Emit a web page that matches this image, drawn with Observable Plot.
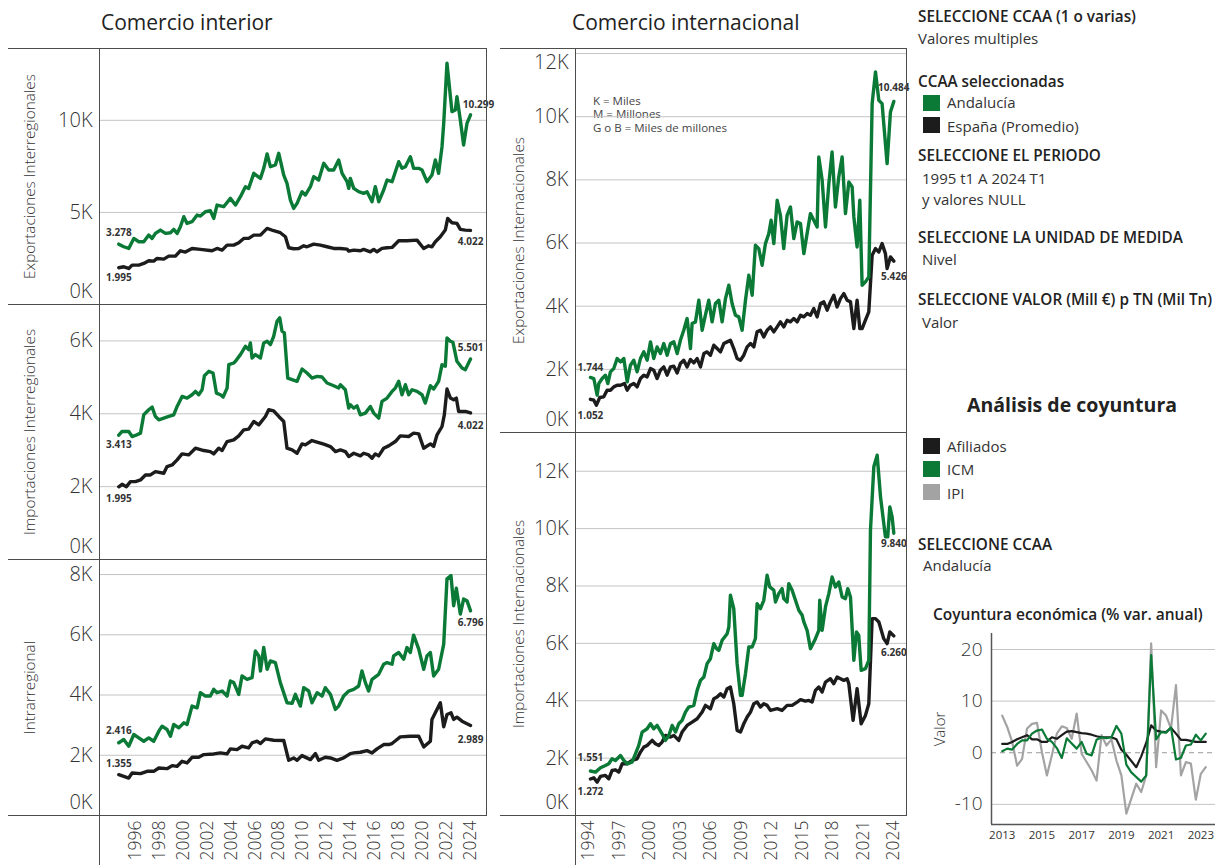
<!DOCTYPE html>
<html><head><meta charset="utf-8">
<script src="https://cdn.jsdelivr.net/npm/d3@7"></script>
<script src="https://cdn.jsdelivr.net/npm/@observablehq/plot@0.6"></script>
<style>
body{margin:0;background:#fff;font-family:"Open Sans","DejaVu Sans",sans-serif;color:#333;}
#page{position:relative;width:1217px;height:865px;overflow:hidden;background:#fff;}
.abs{position:absolute;}
.hl{position:absolute;height:0;border-top:1.5px solid #4d4d4d;z-index:3;}
.vl{position:absolute;width:0;border-left:1.5px solid #4d4d4d;z-index:3;}
.tx{position:absolute;white-space:nowrap;line-height:1;transform:translateY(-50%);}
.h1{font-size:21px;font-weight:500;color:#222;}
.b{font-size:15.3px;font-weight:600;color:#222;}
.r{font-size:15px;font-weight:400;color:#333;}
.sq{position:absolute;width:17px;height:16px;}
.note{font-size:11.5px;color:#444;}
</style>
</head><body>
<div id="page">
  <div class="tx h1" style="left:101px;top:22px">Comercio interior</div>
  <div class="tx h1" style="left:572px;top:22px">Comercio internacional</div>

  <div class="tx b" style="left:918px;top:17px">SELECCIONE CCAA (1 o varias)</div>
  <div class="tx r" style="left:918px;top:38px">Valores multiples</div>
  <div class="tx b" style="left:918px;top:82px">CCAA seleccionadas</div>
  <div class="sq" style="left:923px;top:95px;background:#0a7a36"></div>
  <div class="tx r" style="left:947px;top:102px">Andalucía</div>
  <div class="sq" style="left:923px;top:117px;background:#1c1c1c"></div>
  <div class="tx r" style="left:947px;top:126px">España (Promedio)</div>
  <div class="tx b" style="left:918px;top:156px">SELECCIONE EL PERIODO</div>
  <div class="tx r" style="left:922px;top:178px">1995 t1 A 2024 T1</div>
  <div class="tx r" style="left:922px;top:199px">y valores NULL</div>
  <div class="tx b" style="left:918px;top:238px">SELECCIONE LA UNIDAD DE MEDIDA</div>
  <div class="tx r" style="left:922px;top:259px">Nivel</div>
  <div class="tx b" style="left:918px;top:300px">SELECCIONE VALOR (Mill €) p TN (Mil Tn)</div>
  <div class="tx r" style="left:922px;top:322px">Valor</div>

  <div class="tx" style="left:967px;top:405px;font-size:19.5px;font-weight:700;color:#222">Análisis de coyuntura</div>
  <div class="sq" style="left:923px;top:438px;background:#1c1c1c"></div>
  <div class="tx r" style="left:947px;top:446px">Afiliados</div>
  <div class="sq" style="left:923px;top:461px;background:#0a7a36"></div>
  <div class="tx r" style="left:947px;top:469px">ICM</div>
  <div class="sq" style="left:923px;top:484px;background:#a3a3a3"></div>
  <div class="tx r" style="left:947px;top:493px">IPI</div>
  <div class="tx b" style="left:918px;top:545px">SELECCIONE CCAA</div>
  <div class="tx r" style="left:923px;top:565px">Andalucía</div>
  <div class="tx" style="left:933px;top:615px;font-size:15.5px;font-weight:600;color:#222">Coyuntura económica (% var. anual)</div>

  <div class="tx note" style="left:593px;top:101px">K = Miles</div>
  <div class="tx note" style="left:593px;top:114px">M = Millones</div>
  <div class="tx note" style="left:593px;top:128px">G o B = Miles de millones</div>

  <div id="p1" class="abs" style="left:8px;top:48px"></div>
  <div id="p2" class="abs" style="left:8px;top:304px"></div>
  <div id="p3" class="abs" style="left:8px;top:559px"></div>
  <div id="p4" class="abs" style="left:500px;top:48px"></div>
  <div id="p5" class="abs" style="left:500px;top:432px"></div>
  <div id="p6" class="abs" style="left:905px;top:625px"></div>

  <div class="hl" style="left:8px;width:479px;top:48px"></div>
  <div class="hl" style="left:8px;width:479px;top:304px"></div>
  <div class="hl" style="left:8px;width:479px;top:559px"></div>
  <div class="hl" style="left:8px;width:479px;top:815px"></div>
  <div class="vl" style="left:99px;top:48px;height:817px"></div>
  <div class="vl" style="left:486px;top:48px;height:768px"></div>

  <div class="hl" style="left:500px;width:407px;top:48px"></div>
  <div class="hl" style="left:500px;width:407px;top:432px"></div>
  <div class="hl" style="left:500px;width:407px;top:815px"></div>
  <div class="vl" style="left:575px;top:48px;height:817px"></div>
  <div class="vl" style="left:906px;top:48px;height:768px"></div>
</div>
<script>
// ---------- DATA ----------
const SERIES = ["Andalucía", "España (Promedio)"];

// Comercio interior — Exportaciones Interregionales (millones €), [año, valor]
const expInterAnd = [[1995.00,3278],[1995.41,3135],[1995.82,3044],[1996.24,3588],[1996.65,3407],[1997.06,3407],[1997.47,3769],[1997.75,3588],[1998.02,3860],[1998.43,4041],[1998.85,3860],[1999.26,3896],[1999.53,4077],[1999.81,3860],[2000.08,4222],[2000.36,4766],[2000.63,4403],[2001.04,4494],[2001.46,4856],[2001.73,4802],[2002.14,5037],[2002.55,5092],[2002.83,4675],[2003.10,5400],[2003.65,5309],[2004.20,5762],[2004.62,5400],[2005.03,5853],[2005.44,6396],[2005.71,6306],[2006.13,7121],[2006.68,6849],[2006.95,7393],[2007.23,8172],[2007.50,7484],[2007.91,7574],[2008.19,8208],[2008.60,7031],[2008.87,6577],[2009.15,5672],[2009.42,5219],[2009.70,5490],[2010.11,6125],[2010.38,5943],[2010.80,6396],[2011.07,6940],[2011.48,6759],[2011.90,7665],[2012.31,7302],[2012.72,7302],[2013.13,7846],[2013.41,7121],[2013.82,6668],[2013.96,6306],[2014.09,6849],[2014.37,6306],[2014.78,6125],[2015.19,6034],[2015.47,6125],[2015.88,5581],[2016.15,6396],[2016.43,5581],[2016.84,6215],[2017.12,6759],[2017.53,6668],[2018.08,7755],[2018.35,7393],[2018.63,7484],[2019.04,8027],[2019.31,7393],[2019.73,7393],[2020.00,7302],[2020.41,6668],[2020.82,7031],[2021.10,7846],[2021.37,7121],[2021.65,8571],[2021.79,9839],[2022.06,13101],[2022.47,10474],[2022.75,10564],[2022.88,11289],[2023.16,10020],[2023.43,8661],[2023.71,9839],[2024.00,10299]];
const expInterEsp = [[1995.00,1995],[1995.41,2048],[1995.82,1957],[1996.10,2138],[1996.65,2138],[1997.06,2229],[1997.47,2374],[1997.88,2356],[1998.16,2501],[1998.71,2464],[1999.12,2627],[1999.67,2627],[2000.08,2917],[2000.49,2845],[2001.04,3044],[2001.73,2990],[2002.69,2917],[2003.10,3044],[2003.52,2954],[2003.93,3225],[2004.48,3225],[2004.89,3352],[2005.30,3588],[2005.71,3588],[2006.13,3769],[2006.68,3769],[2007.23,4131],[2007.77,4005],[2008.32,3896],[2008.74,3678],[2009.01,3080],[2009.42,3026],[2009.84,3044],[2010.25,3189],[2010.52,3135],[2011.07,3280],[2011.62,3225],[2012.17,3135],[2012.72,3044],[2013.27,3044],[2013.82,3008],[2013.96,2899],[2014.37,2954],[2014.92,2917],[2015.19,2990],[2015.74,2863],[2016.02,2990],[2016.29,2863],[2016.70,3044],[2017.12,3080],[2017.53,3099],[2018.08,3461],[2018.76,3461],[2019.59,3497],[2020.14,3044],[2020.55,3189],[2020.82,3135],[2021.10,3407],[2021.51,3678],[2021.92,4041],[2022.12,4675],[2022.47,4439],[2022.88,4403],[2023.16,4077],[2023.57,4041],[2024.00,4022]];

// Importaciones Interregionales
const impInterAnd = [[1995.00,3413],[1995.27,3514],[1995.55,3514],[1995.82,3514],[1996.10,3376],[1996.37,3404],[1996.79,3468],[1997.06,3972],[1997.47,4110],[1997.75,4183],[1998.02,3926],[1998.30,3835],[1998.71,3881],[1999.12,3926],[1999.53,3972],[1999.81,4202],[2000.22,4477],[2000.63,4431],[2001.04,4523],[2001.32,4614],[2001.59,4523],[2001.87,4660],[2002.06,5046],[2002.42,5165],[2002.77,5119],[2003.05,4569],[2003.38,4523],[2003.60,4459],[2003.93,4706],[2004.07,5348],[2004.48,5394],[2004.62,5440],[2005.03,5624],[2005.44,5853],[2005.71,5761],[2005.85,5945],[2005.99,5532],[2006.26,5624],[2006.68,5532],[2006.95,5945],[2007.23,5991],[2007.50,5899],[2007.77,6128],[2008.05,6541],[2008.27,6633],[2008.46,6266],[2008.65,6220],[2008.93,4981],[2009.29,4936],[2009.70,4890],[2010.11,5229],[2010.52,5119],[2010.93,4981],[2011.35,5027],[2011.76,5009],[2012.17,4844],[2012.72,4770],[2013.13,4706],[2013.27,4798],[2013.68,4660],[2013.96,4156],[2014.09,4248],[2014.37,4156],[2014.64,4220],[2014.92,3972],[2015.33,4018],[2015.74,4202],[2016.02,4018],[2016.43,3881],[2016.70,4339],[2017.12,4431],[2017.53,4614],[2017.80,4706],[2018.08,4890],[2018.35,4523],[2018.63,4798],[2018.90,4523],[2019.18,4660],[2019.59,4614],[2020.00,4523],[2020.27,4293],[2020.69,4770],[2020.96,4679],[2021.37,4890],[2021.65,5348],[2021.92,5303],[2022.06,6082],[2022.34,5991],[2022.55,5963],[2022.88,5440],[2023.30,5257],[2023.57,5211],[2024.00,5501]];
const impInterEsp = [[1995.00,1995],[1995.27,2064],[1995.63,2000],[1995.96,2138],[1996.37,2138],[1996.79,2183],[1997.20,2321],[1997.61,2321],[1998.02,2413],[1998.71,2367],[1998.98,2550],[1999.40,2596],[1999.81,2734],[2000.22,2899],[2000.77,2871],[2001.32,3055],[2002.01,2991],[2002.55,2963],[2002.83,2899],[2003.24,3055],[2003.52,2991],[2003.93,3238],[2004.48,3284],[2004.89,3394],[2005.30,3560],[2005.71,3578],[2006.13,3789],[2006.54,3697],[2007.09,3926],[2007.36,4110],[2007.77,4082],[2008.19,3926],[2008.60,3789],[2008.87,3055],[2009.29,3009],[2009.70,2917],[2010.11,3174],[2010.38,3147],[2010.93,3266],[2011.48,3211],[2011.90,3165],[2012.45,3101],[2012.86,2963],[2013.27,3009],[2013.68,2963],[2013.96,2826],[2014.37,2917],[2014.92,2844],[2015.19,2917],[2015.60,2871],[2015.88,2780],[2016.15,2899],[2016.43,2844],[2016.84,3055],[2017.25,3119],[2017.80,3238],[2018.21,3394],[2018.90,3376],[2019.31,3468],[2019.73,3449],[2020.14,3055],[2020.69,3174],[2020.96,3101],[2021.24,3422],[2021.65,3651],[2021.84,3972],[2022.06,4679],[2022.34,4431],[2022.61,4385],[2022.83,4431],[2023.02,4064],[2023.57,4064],[2024.00,4022]];

// Intrarregional
const intraAnd = [[1995.00,2416],[1995.41,2522],[1995.82,2300],[1996.24,2689],[1996.65,2578],[1997.06,2466],[1997.47,2578],[1997.88,2466],[1998.30,2800],[1998.57,2966],[1998.98,2855],[1999.26,2633],[1999.53,3022],[1999.95,2911],[2000.36,3077],[2000.63,3022],[2001.04,3633],[2001.46,3577],[2001.73,4077],[2002.14,3966],[2002.55,3966],[2002.83,4188],[2003.10,4077],[2003.52,4133],[2003.93,3966],[2004.20,4466],[2004.48,4411],[2004.89,4022],[2005.16,4633],[2005.58,4522],[2005.99,4577],[2006.26,5466],[2006.54,5300],[2006.68,4800],[2006.95,5577],[2007.23,4855],[2007.50,5133],[2007.91,5077],[2008.32,4411],[2008.87,3744],[2009.29,3722],[2009.56,4022],[2009.97,3633],[2010.25,4244],[2010.66,4133],[2010.93,3744],[2011.35,4077],[2011.76,3966],[2012.03,4244],[2012.45,4022],[2012.86,3522],[2013.13,3633],[2013.54,3966],[2013.96,4133],[2014.37,4188],[2014.78,4300],[2015.05,4800],[2015.33,4411],[2015.60,4133],[2015.88,4522],[2016.43,4688],[2016.84,5022],[2017.12,5077],[2017.53,5022],[2017.66,5300],[2018.08,5411],[2018.49,5188],[2018.76,5577],[2019.04,5411],[2019.31,5988],[2019.73,5522],[2020.14,4855],[2020.41,5300],[2020.69,5411],[2020.96,4633],[2021.37,4855],[2021.79,5688],[2022.06,7855],[2022.39,7966],[2022.61,6966],[2022.83,7544],[2023.16,6688],[2023.43,7188],[2023.71,7133],[2024.00,6796]];
const intraEsp = [[1995.00,1355],[1995.41,1300],[1995.82,1244],[1996.10,1411],[1996.79,1389],[1997.34,1467],[1997.88,1467],[1998.30,1578],[1998.98,1555],[1999.40,1655],[1999.81,1633],[2000.22,1800],[2000.63,1744],[2001.04,1933],[2001.59,1933],[2002.01,2022],[2002.83,2044],[2003.38,2078],[2003.93,2044],[2004.20,2211],[2004.75,2189],[2005.16,2300],[2005.71,2244],[2005.99,2411],[2006.40,2466],[2006.68,2389],[2007.09,2544],[2007.77,2500],[2008.60,2489],[2009.01,1833],[2009.42,1911],[2009.70,1833],[2010.11,1989],[2010.80,1855],[2011.21,2055],[2011.48,1833],[2012.03,1933],[2012.45,1911],[2012.99,1833],[2013.54,1911],[2014.09,2055],[2014.37,2078],[2014.92,2100],[2015.47,2155],[2015.88,2078],[2016.29,2211],[2016.84,2355],[2017.25,2355],[2017.53,2389],[2017.94,2522],[2018.21,2611],[2019.04,2633],[2019.73,2633],[2020.14,2278],[2020.69,2466],[2020.82,3189],[2021.51,3744],[2021.79,2944],[2022.06,3355],[2022.39,3411],[2022.61,3189],[2022.88,3266],[2023.30,3133],[2024.00,2989]];

// Comercio internacional — Exportaciones Internacionales
const expIntlAnd = [[1995.00,1744],[1995.32,1709],[1995.64,1182],[1995.80,1551],[1996.12,1709],[1996.43,1815],[1996.66,1551],[1996.91,1920],[1997.23,2026],[1997.55,2342],[1997.87,2237],[1998.19,2342],[1998.51,1604],[1998.82,2131],[1999.14,2289],[1999.46,1920],[1999.78,2342],[2000.10,2553],[2000.42,2289],[2000.74,2870],[2001.05,2342],[2001.37,2711],[2001.69,2500],[2002.01,2817],[2002.33,2448],[2002.65,2817],[2002.97,2870],[2003.29,2500],[2003.60,2922],[2003.92,3239],[2004.24,3608],[2004.56,2659],[2004.72,3450],[2005.04,3503],[2005.36,4188],[2005.68,3239],[2005.99,3714],[2006.31,4188],[2006.63,3503],[2006.95,4083],[2007.27,4188],[2007.59,3503],[2007.91,4241],[2008.23,4663],[2008.54,4083],[2008.86,3714],[2009.18,3661],[2009.50,3239],[2009.82,4188],[2010.14,4980],[2010.46,4347],[2010.77,5929],[2011.09,5824],[2011.41,5296],[2011.73,5982],[2012.05,6298],[2012.27,6720],[2012.53,5982],[2012.85,7353],[2013.16,6879],[2013.48,5824],[2013.80,6879],[2014.12,7142],[2014.44,6140],[2014.76,6668],[2015.08,6615],[2015.40,5665],[2015.71,6298],[2016.03,6931],[2016.35,6720],[2016.67,6509],[2016.83,8725],[2017.15,7986],[2017.47,6509],[2017.79,7881],[2018.10,8883],[2018.42,7142],[2018.74,8092],[2019.06,8725],[2019.38,6931],[2019.70,7934],[2020.02,7775],[2020.18,6826],[2020.49,5876],[2020.75,7353],[2020.97,4663],[2021.29,4769],[2021.61,4927],[2021.93,10413],[2022.25,11415],[2022.57,10518],[2022.88,10413],[2023.36,8514],[2023.68,10149],[2024.00,10484]];
const expIntlEsp = [[1995.00,1052],[1995.32,1023],[1995.57,865],[1995.89,1108],[1996.27,1129],[1996.59,1340],[1996.91,1340],[1997.23,1445],[1997.55,1498],[1997.87,1498],[1998.25,1551],[1998.51,1340],[1998.82,1498],[1999.14,1551],[1999.46,1445],[1999.78,1709],[2000.10,1815],[2000.42,1762],[2000.74,2026],[2001.05,1973],[2001.37,1709],[2001.69,1973],[2002.01,2078],[2002.33,1815],[2002.65,2078],[2002.97,2099],[2003.29,1888],[2003.60,2184],[2003.92,2289],[2004.24,2078],[2004.56,2310],[2004.88,2205],[2005.20,2342],[2005.52,2078],[2005.84,2500],[2006.15,2553],[2006.47,2448],[2006.79,2764],[2007.11,2659],[2007.43,2553],[2007.75,2817],[2008.07,2870],[2008.38,2922],[2008.70,2659],[2009.02,2342],[2009.34,2289],[2009.66,2448],[2009.98,2711],[2010.30,2817],[2010.62,2711],[2010.93,3186],[2011.25,3239],[2011.57,3028],[2011.89,3239],[2012.21,3344],[2012.53,3186],[2012.85,3344],[2013.16,3503],[2013.48,3344],[2013.80,3555],[2014.12,3503],[2014.44,3608],[2014.76,3503],[2015.08,3714],[2015.40,3661],[2015.71,3766],[2016.03,3714],[2016.35,3925],[2016.67,3661],[2016.99,4083],[2017.31,4136],[2017.63,3872],[2017.94,4136],[2018.26,4347],[2018.58,3977],[2018.90,4241],[2019.22,4399],[2019.54,4188],[2019.86,4136],[2020.18,3292],[2020.49,4188],[2020.75,3292],[2020.97,3292],[2021.29,3555],[2021.61,3819],[2021.93,5613],[2022.25,5824],[2022.57,5718],[2022.88,5982],[2023.20,5665],[2023.36,5191],[2023.68,5560],[2024.00,5426]];

// Importaciones Internacionales
const impIntlAnd = [[1995.00,1551],[1995.48,1512],[1995.96,1663],[1996.43,1745],[1996.75,1803],[1997.07,1977],[1997.39,1919],[1997.87,2093],[1998.19,1919],[1998.51,1803],[1998.98,1861],[1999.30,2152],[1999.62,2442],[1999.94,2908],[2000.42,3024],[2000.74,3198],[2001.05,3024],[2001.37,3140],[2001.85,2849],[2002.17,2617],[2002.49,2791],[2002.81,3140],[2003.13,2908],[2003.44,3198],[2003.76,3315],[2004.08,3605],[2004.40,3780],[2004.88,3838],[2005.20,4361],[2005.52,4710],[2005.84,4826],[2006.15,5292],[2006.47,5466],[2006.79,5989],[2007.05,5815],[2007.27,5757],[2007.59,6106],[2008.07,6338],[2008.23,6571],[2008.38,7676],[2008.70,7211],[2009.02,5292],[2009.34,4187],[2009.50,4187],[2009.82,4943],[2010.14,5873],[2010.46,5873],[2010.77,6164],[2010.93,7385],[2011.25,7211],[2011.57,7501],[2011.89,8374],[2012.14,7967],[2012.53,7850],[2012.69,7443],[2013.00,7734],[2013.32,7908],[2013.48,7560],[2013.80,7443],[2013.96,8083],[2014.28,7850],[2014.60,7501],[2014.92,7152],[2015.24,6978],[2015.40,6745],[2015.71,6455],[2016.03,5815],[2016.51,6164],[2016.83,6455],[2016.92,7501],[2017.15,6455],[2017.47,7269],[2017.79,7734],[2018.10,8315],[2018.42,7967],[2018.74,8141],[2019.06,7618],[2019.38,7560],[2019.60,7908],[2019.86,7618],[2020.18,5408],[2020.43,6397],[2020.65,6280],[2020.88,5059],[2021.29,5117],[2021.61,5408],[2021.77,9944],[2022.09,12153],[2022.41,12560],[2022.73,11107],[2023.20,9711],[2023.42,9711],[2023.62,10758],[2023.84,10409],[2024.00,9840]];
const impIntlEsp = [[1995.00,1272],[1995.32,1314],[1995.64,1163],[1995.96,1361],[1996.43,1396],[1996.75,1279],[1997.07,1570],[1997.39,1593],[1997.71,1512],[1998.03,1803],[1998.51,1803],[1998.98,1919],[1999.46,1977],[1999.78,2210],[2000.10,2384],[2000.42,2442],[2000.90,2617],[2001.21,2500],[2001.53,2442],[2001.85,2559],[2002.17,2791],[2002.65,2733],[2002.97,2791],[2003.44,2617],[2003.76,2908],[2004.24,3140],[2004.72,3256],[2005.20,3373],[2005.68,3605],[2005.99,3838],[2006.47,3722],[2006.79,4071],[2007.11,4129],[2007.43,4245],[2007.75,4129],[2008.07,4419],[2008.38,4478],[2008.70,3896],[2009.02,2966],[2009.34,2908],[2009.66,3198],[2009.98,3431],[2010.30,3605],[2010.62,3896],[2010.93,3954],[2011.25,3780],[2011.57,3896],[2011.89,3838],[2012.21,3663],[2012.85,3722],[2013.32,3663],[2013.80,3838],[2014.28,3838],[2014.76,3954],[2015.08,4036],[2015.55,3989],[2015.87,4012],[2016.19,3954],[2016.51,4361],[2016.83,4478],[2017.15,4303],[2017.47,4652],[2017.94,4768],[2018.26,4594],[2018.58,4826],[2018.90,4768],[2019.22,4710],[2019.54,4768],[2019.70,4594],[2020.11,3315],[2020.49,4419],[2020.88,3198],[2021.29,3489],[2021.61,3896],[2021.93,6862],[2022.25,6862],[2022.57,6745],[2023.04,6164],[2023.36,5989],[2023.62,6397],[2024.00,6260]];

// Coyuntura económica (% var. anual), trimestral desde 2013 T1
const coyStartYear = 2013;
const afiliados = [1.7,1.7,2.1,2.6,3.0,3.4,2.6,2.6,2.1,2.1,3.0,2.7,3.4,4.1,4.2,4.0,3.8,3.7,3.5,3.2,3.0,3.0,3.0,2.6,0.6,-0.4,-1.6,-2.8,-0.7,1.9,5.3,4.3,4.1,4.0,4.8,3.7,2.5,2.5,2.3,2.1,2.1,2.1];
const icm = [0.3,0.8,0.6,1.7,2.4,2.4,3.7,4.3,4.5,2.7,2.1,0.9,-1.0,2.8,1.8,0.8,2.1,-0.2,-0.5,2.5,3.0,2.8,3.0,5.2,3.7,-2.3,-3.8,-4.7,-5.6,-4.4,18.9,2.6,4.0,3.9,4.9,-1.3,-1.0,1.4,1.6,3.5,2.4,3.7];
const ipi = [7.2,5.0,2.1,-2.5,-1.2,4.7,5.6,5.8,0.1,-4.4,-0.5,3.7,5.1,4.8,2.7,7.6,-0.2,-1.8,-3.4,-5.4,3.4,1.4,2.6,-1.5,-4.4,-11.8,-8.9,-6.0,-7.6,-4.4,21.2,-2.8,8.2,7.2,4.7,13.1,-4.4,-1.8,-2.1,-9.1,-4.1,-2.8];

// Tick labels
const yearsInterior = [1996,1998,2000,2002,2004,2006,2008,2010,2012,2014,2016,2018,2020,2022,2024];
const yearsIntl = [1994,1997,2000,2003,2006,2009,2012,2015,2018,2021,2024];
const yearsCoy = [2013,2015,2017,2019,2021,2023];

// ---------- STYLE / LAYOUT ----------
const FONT = "'Open Sans','DejaVu Sans',sans-serif";
const GREEN = "#0a7a36", BLACK = "#1c1c1c", GRAY = "#a3a3a3", GRID = "#c4c4c4", TEXT = "#333";
const kFmt = d => d / 1000 + "K";
const esNum = v => d3.format(",")(Math.round(v)).replace(/,/g, ".");
// Tableau places its year labels slightly off the quarter positions; calibrate label year -> time position
const labelCal = (a, b) => y => a[1] + (y - a[0]) * (b[1] - a[1]) / (b[0] - a[0]);
const calInt = labelCal([1996, 1996.38], [2024, 2023.96]);
const calIntl = labelCal([1994, 1994.81], [2024, 2023.97]);

function panel(cfg) {
  const rows = [
    ...cfg.esp.map(([t, v]) => ({t, v, s: SERIES[1]})),
    ...cfg.and.map(([t, v]) => ({t, v, s: SERIES[0]}))
  ];
  const ends = [
    [cfg.and[0], cfg.off[0]], [cfg.and[cfg.and.length - 1], cfg.off[1]],
    [cfg.esp[0], cfg.off[2]], [cfg.esp[cfg.esp.length - 1], cfg.off[3]]
  ].map(([p, o]) => ({t: p[0], v: p[1], dy: Array.isArray(o) ? o[0] : o, dx: Array.isArray(o) ? o[1] : 0}));
  const ax = {tickSize: 0, tickPadding: 7, fontSize: 20, fontWeight: 300, fill: TEXT, tickFormat: kFmt, label: null};
  const marks = [
    Plot.gridY(cfg.grid, {stroke: GRID, strokeOpacity: 1, strokeWidth: 1}),
    Plot.axisY(cfg.yTicks, ax),
    Plot.axisY([0], {...ax, dy: -12.5})
  ];
  if (cfg.yTop != null) marks.push(Plot.axisY([cfg.yTop], {...ax, dy: 9}));
  marks.push(Plot.text([cfg.title], {text: d => d, frameAnchor: "left", rotate: -90, dx: cfg.titleDx,
    fontSize: 15.3, fontWeight: 300, fill: TEXT, textAnchor: "middle", lineAnchor: "middle"}));
  if (cfg.xTicks) marks.push(Plot.axisX(cfg.xTicks.map(cfg.cal), {tickSize: 0, tickPadding: 5, tickRotate: -90,
    fontSize: 17.5, fontWeight: 300, fill: TEXT, tickFormat: (d, i) => String(cfg.xTicks[i]), label: null}));
  marks.push(Plot.line(rows, {x: "t", y: "v", z: "s", stroke: "s", strokeWidth: 3.4, strokeLinejoin: "round", strokeLinecap: "round"}));
  for (const d of ends) {
    marks.push(Plot.text([d], {x: "t", y: "v", text: e => esNum(e.v), dy: d.dy, dx: d.dx, fontSize: 10, fontWeight: 700, fill: TEXT}));
  }
  return Plot.plot({
    width: cfg.width, height: cfg.height,
    marginLeft: cfg.ml, marginRight: 1, marginTop: 0, marginBottom: cfg.mb || 0,
    style: {background: "transparent", overflow: "visible", fontFamily: FONT},
    x: {type: "linear", domain: cfg.xDomain, axis: null},
    y: {domain: [0, cfg.yMax], axis: null},
    color: {domain: SERIES, range: [GREEN, BLACK]},
    marks
  });
}

const domInt = [1993.41, 2025.40], domIntl = [1993.57, 2025.31];

document.getElementById("p1").append(panel({and: expInterAnd, esp: expInterEsp, off: [-11, [-10, 8], 10, 11],
  width: 480, height: 256, ml: 91, xDomain: domInt, yMax: 13900, grid: [5000, 10000], yTicks: [5000, 10000],
  title: "Exportaciones Interregionales", titleDx: -69}));
document.getElementById("p2").append(panel({and: impInterAnd, esp: impInterEsp, off: [10, -11, 12, 13],
  width: 480, height: 255, ml: 91, xDomain: domInt, yMax: 7000, grid: [2000, 4000, 6000], yTicks: [2000, 4000, 6000],
  title: "Importaciones Interregionales", titleDx: -69}));
document.getElementById("p3").append(panel({and: intraAnd, esp: intraEsp, off: [-12, 12, -11, 14],
  width: 480, height: 306, ml: 91, mb: 50, xDomain: domInt, yMax: 8500, grid: [2000, 4000, 6000, 8000], yTicks: [2000, 4000, 6000, 8000],
  title: "Intrarregional", titleDx: -69, xTicks: yearsInterior, cal: calInt}));
document.getElementById("p4").append(panel({and: expIntlAnd, esp: expIntlEsp, off: [-10, -14, 17, 16],
  width: 408, height: 384, ml: 75, xDomain: domIntl, yMax: 12160, grid: [2000, 4000, 6000, 8000, 10000, 12000], yTicks: [2000, 4000, 6000, 8000, 10000], yTop: 12000,
  title: "Exportaciones Internacionales", titleDx: -56}));
document.getElementById("p5").append(panel({and: impIntlAnd, esp: impIntlEsp, off: [-13, 11, 13, 17],
  width: 408, height: 433, ml: 75, mb: 50, xDomain: domIntl, yMax: 13350, grid: [2000, 4000, 6000, 8000, 10000, 12000], yTicks: [2000, 4000, 6000, 8000, 10000, 12000],
  title: "Importaciones Internacionales", titleDx: -56, xTicks: yearsIntl, cal: calIntl}));

// Coyuntura
const coyRows = [
  ...ipi.map((v, i) => ({t: coyStartYear + i / 4, v, s: "IPI"})),
  ...afiliados.map((v, i) => ({t: coyStartYear + i / 4, v, s: "Afiliados"})),
  ...icm.map((v, i) => ({t: coyStartYear + i / 4, v, s: "ICM"}))
];
const cx = [2012.46, 2023.74], cy = [-13.9, 23.1];
document.getElementById("p6").append(Plot.plot({
  width: 312, height: 240, marginLeft: 86, marginRight: 2, marginTop: 8, marginBottom: 41,
  style: {background: "transparent", overflow: "visible", fontFamily: FONT},
  x: {type: "linear", domain: cx, axis: null},
  y: {domain: cy, axis: null},
  color: {domain: ["Afiliados", "ICM", "IPI"], range: [BLACK, GREEN, GRAY]},
  marks: [
    Plot.gridY([-10, 10, 20], {stroke: GRID, strokeOpacity: 1}),
    Plot.ruleY([0], {stroke: "#9a9a9a", strokeDasharray: "5,4"}),
    Plot.axisY([-10, 0, 10, 20], {tickSize: 0, tickPadding: 9, fontSize: 19, fontWeight: 300, fill: TEXT, tickFormat: d => String(d), label: null}),
    Plot.axisX(yearsCoy, {tickSize: 0, tickPadding: 6, fontSize: 11.5, fill: TEXT, tickFormat: d => String(d), label: null}),
    Plot.text(["Valor"], {text: d => d, frameAnchor: "left", rotate: -90, dx: -51, fontSize: 15, fontWeight: 300, fill: TEXT, textAnchor: "middle", lineAnchor: "middle"}),
    Plot.line(coyRows, {x: "t", y: "v", z: "s", stroke: "s", strokeWidth: 2.2, strokeLinejoin: "round"}),
    Plot.ruleX([cx[0]], {stroke: "#555", strokeWidth: 1.5}),
    Plot.ruleY([cy[0]], {stroke: "#555", strokeWidth: 1.5})
  ]
}));
</script>
</body></html>
